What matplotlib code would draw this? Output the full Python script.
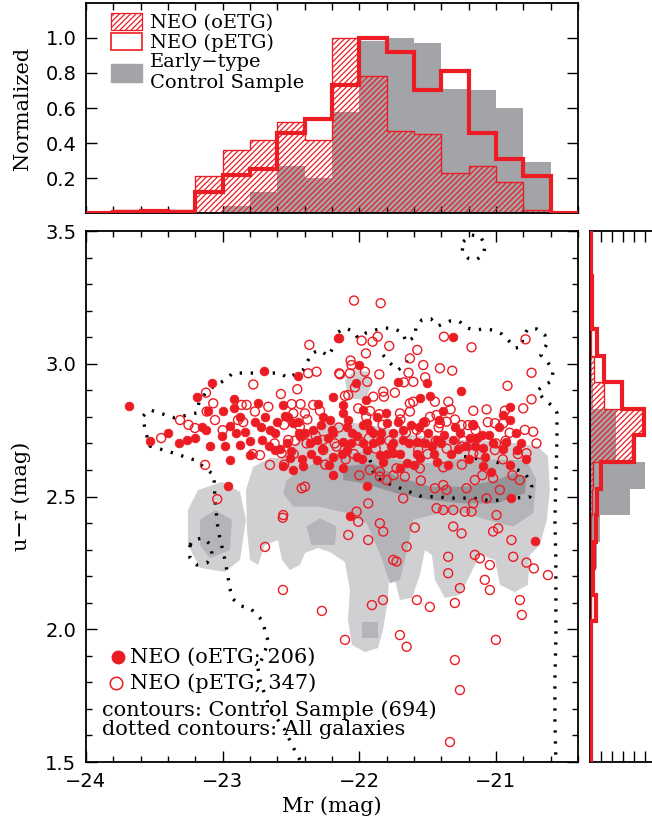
import numpy as np
import matplotlib
matplotlib.use('Agg')
import matplotlib.pyplot as plt
from matplotlib.patches import Patch, Polygon

plt.rcParams['hatch.linewidth'] = 0.9
RED = '#ec1c24'
HGRAY = '#a3a4a8'
C_LIGHT = '#d0d0d3'
C_MID = '#b5b5b9'
C_DARK = '#939398'
SERIF = 'DejaVu Serif'
SANS = 'DejaVu Sans'

# ---------------- top histogram (Mr) ----------------
mr_edges = [-24.0, -23.8, -23.6, -23.4, -23.2, -23.0, -22.8, -22.6, -22.4, -22.2,
            -22.0, -21.8, -21.6, -21.4, -21.2, -21.0, -20.8, -20.6, -20.4]
ctrl_mr = [0, 0, 0, 0, 0.01, 0.04, 0.12, 0.27, 0.20, 0.58, 0.98, 1.00, 0.97, 0.71, 0.70, 0.60, 0.29, 0]
oetg_mr_hist = [0, 0.02, 0.01, 0.02, 0.21, 0.36, 0.42, 0.52, 0.42, 1.00, 0.78, 0.47, 0.45, 0.23, 0.27, 0.18, 0.02, 0]
petg_mr_hist = [0, 0.005, 0.015, 0.01, 0.12, 0.22, 0.25, 0.46, 0.54, 0.73, 1.00, 0.92, 0.70, 0.81, 0.46, 0.31, 0.21, 0]

# ---------------- right histogram (u-r) ----------------
ur_edges = [1.43, 1.53, 1.63, 1.73, 1.83, 1.93, 2.03, 2.13, 2.23, 2.33, 2.43, 2.53, 2.63,
            2.73, 2.83, 2.93, 3.03, 3.13, 3.23, 3.33, 3.43, 3.53]
ctrl_ur = [0, 0, 0, 0, 0, 0, 0.03, 0.06, 0.13, 0.19, 0.73, 1.00, 0.48, 0.48, 0.06, 0.03, 0.03, 0, 0, 0, 0]
oetg_ur_hist = [0, 0, 0, 0, 0, 0, 0.01, 0.01, 0.01, 0.02, 0.03, 0.06, 0.77, 0.96, 0.26, 0.07, 0.02, 0, 0, 0, 0]
petg_ur_hist = [0.01, 0.01, 0.01, 0.01, 0.01, 0.02, 0.10, 0.05, 0.07, 0.10, 0.13, 0.20, 0.80, 0.99, 0.59, 0.26, 0.13, 0.03, 0.03, 0.02, 0.01]

# ---------------- scatter points ----------------
oetg_mr = [-23.683, -23.19, -23.08, -23.105, -22.996, -22.915, -22.917, -22.74, -22.696, -22.561,
           -22.447, -22.301, -22.191, -22.154, -22.874, -22.691, -22.545, -22.264,
           -22.147, -21.313, -22.003, -22.025, -21.715, -21.508, -21.257, -21.483, -21.557,
           -21.952, -22.117, -22.122, -21.971, -21.805, -21.386, -20.947, -20.898,
           -22.337, -22.483, -22.215, -22.093, -21.947, -21.898, -21.801, -21.679, -21.533,
           -22.532, -22.435, -22.313, -22.191, -22.118, -22.02, -21.971, -21.85, -21.752,
           -21.679, -21.581, -21.435, -21.313, -21.191, -21.142, -21.094, -20.928, -20.845,
           -22.508, -22.483, -22.313, -22.191, -22.093, -22.02, -21.947, -21.85, -21.752,
           -21.654, -21.557, -21.435, -22.557, -22.41, -22.191, -22.118, -21.703, -21.094,
           -21.033, -21.947, -20.887, -22.069, -20.716,
           -23.532, -23.261, -23.151, -23.093, -23.005, -22.947, -22.873, -22.837, -22.764,
           -22.713, -22.654, -22.617, -22.947, -22.800,
           -22.45, -22.40, -22.28, -22.23, -22.05, -21.92, -21.87, -21.75, -21.62, -21.50,
           -21.47, -21.38, -21.26, -21.22, -21.05, -20.98, -22.62, -22.58, -22.35, -21.80,
           -21.60, -21.33,
           -22.50, -22.42, -22.36, -22.27, -22.22, -22.13, -22.06, -21.98, -21.90, -21.83,
           -21.77, -21.70, -21.64, -21.58, -21.52, -21.45, -21.40, -21.35, -21.28, -21.20,
           -21.15, -21.08, -21.02, -20.95, -20.90, -20.82, -20.78,
           -22.60, -22.52, -22.44, -22.20, -22.08, -21.97, -21.84, -21.72, -21.56, -21.42,
           -21.30, -21.17, -21.10, -20.90, -20.85,
           -23.40, -23.32, -23.20, -23.12, -22.98, -22.90, -22.80, -22.72, -22.66, -22.96]
oetg_ur = [2.841, 2.876, 2.929, 2.823, 2.823, 2.866, 2.832, 2.853, 2.974, 2.845,
           2.954, 2.847, 2.876, 3.096, 2.801, 2.798, 2.803, 2.798,
           3.098, 3.102, 2.995, 2.929, 2.930, 2.929, 2.899, 2.879, 2.870,
           2.864, 2.845, 2.816, 2.826, 2.816, 2.823, 2.807, 2.838,
           2.751, 2.776, 2.788, 2.763, 2.776, 2.738, 2.776, 2.751, 2.782,
           2.700, 2.726, 2.713, 2.738, 2.707, 2.726, 2.700, 2.713, 2.700,
           2.713, 2.707, 2.713, 2.713, 2.719, 2.719, 2.682, 2.707, 2.675,
           2.644, 2.600, 2.638, 2.650, 2.675, 2.650, 2.675, 2.656, 2.663,
           2.625, 2.644, 2.631, 2.613, 2.613, 2.581, 2.606, 2.606, 2.613,
           2.594, 2.540, 2.493, 2.427, 2.333,
           2.709, 2.713, 2.762, 2.690, 2.728, 2.766, 2.694, 2.743, 2.781,
           2.713, 2.750, 2.675, 2.637, 2.656,
           2.78, 2.74, 2.77, 2.72, 2.74, 2.75, 2.80, 2.74, 2.77, 2.74,
           2.69, 2.73, 2.74, 2.69, 2.73, 2.76, 2.74, 2.68, 2.66, 2.66,
           2.62, 2.66,
           2.67, 2.64, 2.70, 2.68, 2.62, 2.66, 2.70, 2.64, 2.70, 2.63,
           2.69, 2.66, 2.70, 2.66, 2.70, 2.66, 2.70, 2.62, 2.68, 2.64,
           2.69, 2.65, 2.70, 2.68, 2.62, 2.70, 2.64,
           2.78, 2.80, 2.74, 2.75, 2.79, 2.77, 2.74, 2.78, 2.76, 2.79,
           2.76, 2.77, 2.73, 2.79, 2.74,
           2.74, 2.70, 2.72, 2.75, 2.69, 2.74, 2.71, 2.76, 2.69, 2.54]

petg_mr = [-23.122, -23.069, -22.776, -22.574, -22.454, -22.366, -22.374, -22.313, -22.147,
           -22.861, -22.825, -22.666, -22.495, -22.43, -22.398, -22.337, -22.288, -22.483,
           -23.117, -22.764,
           -22.039, -21.844, -21.983, -21.903, -21.866, -21.781, -21.952, -21.576, -21.630,
           -21.381, -21.179, -20.784, -22.064, -22.057, -22.142, -22.069, -21.959, -21.854,
           -21.942, -22.032, -21.532, -21.640, -21.518, -21.605, -21.410, -21.320, -20.740,
           -20.916, -21.674, -21.825, -21.740, -21.820, -21.630, -21.605, -21.447, -21.349,
           -21.332, -21.166, -21.069, -20.935, -20.801, -20.740, -22.105, -22.081, -22.008,
           -21.922, -21.854, -21.703, -21.630, -21.483, -21.435, -21.898,
           -21.581, -21.411, -21.362, -21.252, -21.204, -21.167, -21.008, -20.947, -20.789,
           -20.728, -20.704, -20.777, -22.435, -22.520, -22.569, -22.386, -22.264, -22.167,
           -21.923, -21.850, -21.728, -21.557, -21.386, -21.569, -21.252, -21.167, -21.008,
           -21.850, -21.801, -21.667, -21.447, -21.386, -21.362, -21.216, -21.155, -21.021,
           -20.972, -21.069, -20.826, -21.679, -21.435, -21.386, -21.313, -21.228, -21.179,
           -21.167, -20.996, -22.557, -22.422, -22.398, -22.020, -22.008, -21.935, -21.850,
           -21.825, -22.081, -21.935, -21.594, -21.654, -21.313, -21.252, -21.021, -20.984,
           -20.887, -20.874, -20.777, -20.723, -21.155, -21.118, -21.045, -21.350, -21.350,
           -21.752, -21.728, -21.082, -22.264,
           -22.274, -22.105, -21.908, -21.827, -21.703, -21.579, -21.484, -21.301, -21.264,
           -21.045, -21.001, -20.825, -20.811, -20.620, -21.301, -21.264, -21.337, -22.559,
           -21.654,
           -23.312, -23.203, -23.056, -22.888, -22.727, -22.654, -23.129,
           -22.55, -22.47, -22.38, -22.15, -22.00, -21.95, -21.83, -21.70, -21.55, -21.42,
           -21.30, -21.15, -21.00, -20.90, -22.25, -22.10, -21.88, -21.50, -21.25, -20.95,
           -22.62, -22.48, -22.32, -22.18, -22.04, -21.93, -21.78, -21.66, -21.52, -21.44,
           -21.36, -21.24, -21.12, -21.06, -20.93, -20.84, -23.00, -22.85, -22.78, -23.25,
           -23.45, -22.55, -22.00, -21.75, -21.55, -21.10, -20.88,
           -23.04, -22.56, -22.69]
petg_ur = [2.891, 2.851, 2.922, 2.886, 2.904, 3.071, 2.964, 2.970, 2.964,
           2.845, 2.845, 2.838, 2.848, 2.848, 2.813, 2.845, 2.823, 2.813,
           2.820, 2.820,
           3.238, 3.228, 3.087, 3.083, 3.102, 3.067, 3.039, 3.052, 3.020,
           3.102, 3.062, 3.092, 3.012, 2.995, 2.960, 2.964, 2.970, 2.960,
           2.932, 2.911, 2.995, 2.966, 2.949, 2.932, 2.983, 2.974, 2.966,
           2.917, 2.930, 2.895, 2.891, 2.876, 2.851, 2.857, 2.857, 2.857,
           2.828, 2.823, 2.828, 2.823, 2.832, 2.866, 2.879, 2.882, 2.832,
           2.822, 2.810, 2.813, 2.820, 2.800, 2.807, 2.876,
           2.751, 2.776, 2.782, 2.769, 2.769, 2.769, 2.776, 2.776, 2.751,
           2.744, 2.700, 2.663, 2.763, 2.713, 2.663, 2.700, 2.675, 2.688,
           2.600, 2.594, 2.606, 2.606, 2.610, 2.675, 2.688, 2.663, 2.675,
           2.575, 2.562, 2.575, 2.531, 2.543, 2.525, 2.531, 2.562, 2.569,
           2.525, 2.493, 2.562, 2.493, 2.456, 2.449, 2.449, 2.443, 2.443,
           2.474, 2.430, 2.430, 2.531, 2.537, 2.443, 2.405, 2.474, 2.399,
           2.368, 2.355, 2.336, 2.383, 2.311, 2.387, 2.361, 2.368, 2.380,
           2.336, 2.273, 2.251, 2.229, 2.280, 2.267, 2.242, 2.273, 2.211,
           2.261, 2.255, 2.186, 2.713,
           2.069, 1.960, 2.091, 2.110, 1.978, 2.110, 2.084, 2.099, 2.155,
           2.148, 1.960, 2.110, 2.054, 2.204, 1.884, 1.771, 1.575, 2.148,
           1.934,
           2.788, 2.758, 2.788, 2.788, 2.656, 2.619, 2.619,
           2.77, 2.71, 2.79, 2.76, 2.71, 2.80, 2.77, 2.79, 2.73, 2.76,
           2.79, 2.75, 2.70, 2.74, 2.62, 2.64, 2.68, 2.66, 2.62, 2.64,
           2.70, 2.66, 2.73, 2.70, 2.66, 2.72, 2.71, 2.74, 2.78, 2.71,
           2.68, 2.71, 2.66, 2.78, 2.71, 2.66, 2.75, 2.78, 2.66, 2.77,
           2.72, 2.62, 2.58, 2.58, 2.56, 2.58, 2.58,
           2.49, 2.42, 2.31]

# ---------------- contour outlines (Mr, u-r) ----------------
light_body_mr = [-22.83, -22.778, -22.654, -22.581, -22.493, -22.361, -22.215, -22.032, -21.849,
                 -21.608, -21.359, -21.118, -20.876, -20.701, -20.62, -20.606, -20.628, -20.679,
                 -20.752, -20.767, -20.862, -20.971, -21.008, -21.118, -21.191, -21.264, -21.374,
                 -21.447, -21.469, -21.52, -21.557, -21.615, -21.703, -21.74, -21.776, -21.791,
                 -21.827, -21.864, -21.959, -22.054, -22.083, -22.069, -22.105, -22.215, -22.303,
                 -22.398, -22.435, -22.508, -22.566, -22.595, -22.691, -22.742, -22.8, -22.822]
light_body_ur = [2.524, 2.611, 2.645, 2.645, 2.686, 2.75, 2.777, 2.777, 2.762,
                 2.732, 2.713, 2.713, 2.701, 2.69, 2.653, 2.524, 2.412, 2.317,
                 2.28, 2.167, 2.14, 2.167, 2.261, 2.28, 2.204, 2.129, 2.118,
                 2.186, 2.28, 2.298, 2.204, 2.118, 2.11, 2.186, 2.261, 2.11,
                 1.997, 1.929, 1.914, 1.941, 2.035, 2.148, 2.253, 2.291, 2.306,
                 2.287, 2.242, 2.223, 2.261, 2.336, 2.317, 2.242, 2.261, 2.374]
light_lobe_mr = [-23.254, -23.181, -23.005, -22.873, -22.83, -22.873, -22.983, -23.166, -23.254]
light_lobe_ur = [2.449, 2.524, 2.555, 2.517, 2.412, 2.261, 2.216, 2.231, 2.317]
light_patch_mr = [-22.105, -22.032, -21.937, -21.908, -21.959, -22.083]
light_patch_ur = [2.939, 2.976, 2.969, 2.92, 2.863, 2.871]
mid_body_mr = [-22.532, -22.386, -22.215, -21.971, -21.728, -21.484, -21.24, -20.996, -20.777,
               -20.704, -20.728, -20.874, -21.069, -21.216, -21.411, -21.606, -21.654, -21.703,
               -21.776, -21.85, -21.947, -22.093, -22.288, -22.483, -22.557]
mid_body_ur = [2.562, 2.613, 2.65, 2.669, 2.638, 2.625, 2.644, 2.638, 2.638,
               2.562, 2.437, 2.387, 2.412, 2.437, 2.437, 2.412, 2.286, 2.186,
               2.173, 2.286, 2.399, 2.437, 2.462, 2.462, 2.512]
mid_island_mr = [-22.386, -22.288, -22.167, -22.179, -22.35]
mid_island_ur = [2.387, 2.418, 2.387, 2.318, 2.318]
mid_lobe_mr = [-23.166, -23.056, -22.932, -22.947, -23.093, -23.166]
mid_lobe_ur = [2.412, 2.449, 2.412, 2.298, 2.268, 2.317]
dark_core_mr = [-22.118, -21.898, -21.728, -21.484, -21.216, -20.996, -20.874, -20.777, -20.789,
                -20.996, -21.216, -21.484, -21.728, -21.971, -22.118]
dark_core_ur = [2.613, 2.625, 2.575, 2.537, 2.537, 2.562, 2.587, 2.575, 2.512,
                2.474, 2.474, 2.487, 2.512, 2.55, 2.562]
dark_tip_mr = [-21.981, -21.864, -21.864, -21.981]
dark_tip_ur = [2.027, 2.027, 1.967, 1.967]

# dotted contours: all galaxies
allgal_mr = [-22.435, -22.493, -22.544, -22.595, -22.639, -22.691, -22.727, -22.742, -22.691, -22.669,
             -22.713, -22.8, -22.873, -22.932, -22.947, -22.983, -23.034, -23.056, -23.064, -23.203,
             -23.386, -23.532, -23.568, -23.583, -23.532, -23.349, -23.188, -23.173, -23.108, -22.983,
             -22.925, -22.727, -22.581, -22.522, -22.413, -22.347, -22.288, -22.23, -22.164, -22.164,
             -22.105, -22.047, -22.01, -21.952, -21.886, -21.813, -21.74, -21.681, -21.659, -21.593,
             -21.586, -21.542, -21.476, -21.425, -21.337, -21.271, -21.213, -21.154, -21.089, -21.023,
             -20.957, -20.906, -20.862, -20.811, -20.803, -20.767, -20.701, -20.642, -20.628, -20.672,
             -20.613, -20.584, -20.591, -20.657, -20.701, -20.657, -20.598, -20.554, -20.554, -20.562,
             -20.569, -20.562, -20.562, -20.562, -20.569, -20.569, -20.562]
allgal_ur = [1.508, 1.564, 1.621, 1.658, 1.688, 1.752, 1.809, 1.854, 1.914, 1.959,
             2.035, 2.08, 2.088, 2.118, 2.155, 2.261, 2.374, 2.487, 2.581, 2.637,
             2.668, 2.69, 2.75, 2.803, 2.826, 2.796, 2.815, 2.856, 2.901, 2.939,
             2.965, 2.965, 2.965, 2.946, 2.976, 3.04, 3.052, 3.029, 3.082, 3.116,
             3.135, 3.123, 3.097, 3.116, 3.127, 3.135, 3.131, 3.116, 3.082, 3.101,
             3.138, 3.165, 3.169, 3.142, 3.161, 3.161, 3.135, 3.127, 3.131, 3.127,
             3.112, 3.086, 3.059, 3.063, 3.101, 3.131, 3.131, 3.108, 3.074, 3.033,
             2.999, 2.969, 2.935, 2.916, 2.897, 2.871, 2.845, 2.815, 2.713, 2.562,
             2.412, 2.261, 2.11, 1.959, 1.809, 1.658, 1.508]
inner_mr = [-21.922, -21.886, -21.798, -21.703, -21.557, -21.432, -21.315, -21.169, -21.03, -20.876,
            -20.752, -20.737, -20.767, -20.789, -20.876, -20.971, -21.067, -21.213, -21.337]
inner_ur = [2.637, 2.573, 2.551, 2.532, 2.502, 2.498, 2.494, 2.494, 2.483, 2.494,
            2.498, 2.536, 2.57, 2.589, 2.607, 2.626, 2.637, 2.649, 2.66]
wiggle_mr = [-21.827, -21.776, -21.718, -21.666, -21.63]
wiggle_ur = [3.033, 3.003, 2.976, 2.995, 3.033]
ring_top_mr = [-21.24, -21.178, -21.113, -21.081, -21.089, -21.142, -21.203, -21.247, -21.24]
ring_top_ur = [3.46, 3.485, 3.479, 3.447, 3.416, 3.391, 3.397, 3.422, 3.46]
ring_left_mr = [-23.239, -23.217, -23.144, -23.086, -23.078, -23.115, -23.188, -23.239, -23.239]
ring_left_ur = [2.317, 2.336, 2.344, 2.317, 2.28, 2.25, 2.242, 2.268, 2.317]

# ---------------- figure ----------------
fig = plt.figure(figsize=(6.52, 8.27), dpi=100)
W, H = 652.0, 827.0
def rect(x0, y0, x1, y1):
    return [x0 / W, 1 - y1 / H, (x1 - x0) / W, (y1 - y0) / H]

ax = fig.add_axes(rect(86, 231, 578, 762))
axt = fig.add_axes(rect(86, 2.7, 578, 213.3))
axr = fig.add_axes(rect(590, 231, 656, 762))

XLIM = (-24.0, -20.4)
YLIM = (1.5, 3.5)

def poly(a, mr, ur, color, z):
    a.add_patch(Polygon(np.column_stack([mr, ur]), closed=True, facecolor=color,
                        edgecolor='none', zorder=z))

poly(ax, light_body_mr, light_body_ur, C_LIGHT, 1)
poly(ax, light_lobe_mr, light_lobe_ur, C_LIGHT, 1)
poly(ax, light_patch_mr, light_patch_ur, C_LIGHT, 1)
poly(ax, mid_body_mr, mid_body_ur, C_MID, 2)
poly(ax, mid_island_mr, mid_island_ur, C_MID, 2)
poly(ax, mid_lobe_mr, mid_lobe_ur, C_MID, 2)
poly(ax, dark_core_mr, dark_core_ur, C_DARK, 3)
poly(ax, dark_tip_mr, dark_tip_ur, C_MID, 3)

dot = dict(color='black', lw=2.4, ls=(0, (0.7, 2.6)), dash_capstyle='butt', zorder=4)
for mr, ur in [(allgal_mr, allgal_ur), (inner_mr, inner_ur), (wiggle_mr, wiggle_ur),
               (ring_top_mr, ring_top_ur), (ring_left_mr, ring_left_ur)]:
    ax.plot(mr, ur, **dot)

ax.scatter(oetg_mr, oetg_ur, s=40, color=RED, edgecolors=RED, linewidths=0.5, zorder=5)
ax.scatter(petg_mr, petg_ur, s=42, facecolors='none', edgecolors=RED, linewidths=1.0, zorder=6)

ax.set_xlim(*XLIM)
ax.set_ylim(*YLIM)
ax.set_xticks([-24, -23, -22, -21])
ax.set_xticks(np.arange(-24, -20.39, 0.2), minor=True)
ax.set_yticks([1.5, 2.0, 2.5, 3.0, 3.5])
ax.set_yticks(np.arange(1.5, 3.51, 0.1), minor=True)
ax.set_yticklabels(['1.5', '2.0', '2.5', '3.0', '3.5'])
ax.tick_params(which='both', direction='in', top=True, right=True, width=1.0)
ax.tick_params(which='major', length=8, labelsize=14, pad=7)
ax.tick_params(which='minor', length=4)
for lab in ax.get_xticklabels() + ax.get_yticklabels():
    lab.set_family(SANS)
ax.set_xlabel('Mr (mag)', family=SERIF, fontsize=15, labelpad=4)
ax.set_ylabel('u\u2212r (mag)', family=SERIF, fontsize=15, labelpad=10)
for s in ax.spines.values():
    s.set_linewidth(1.3)

# main legend
ax.plot([0.065], [0.198], 'o', ms=9, color=RED, transform=ax.transAxes, zorder=7)
ax.plot([0.061], [0.149], 'o', ms=9, mfc='none', mec=RED, mew=1.1, transform=ax.transAxes, zorder=7)
tk = dict(transform=ax.transAxes, family=SERIF, fontsize=15, va='center', ha='left', zorder=8)
ax.text(0.089, 0.198, 'NEO (oETG; 206)', **tk)
ax.text(0.089, 0.149, 'NEO (pETG; 347)', **tk)
ax.text(0.033, 0.098, 'contours: Control Sample (694)', **tk)
ax.text(0.033, 0.062, 'dotted contours: All galaxies', **tk)

# ---- top histogram ----
axt.stairs(ctrl_mr, mr_edges, fill=True, color=HGRAY, zorder=1)
axt.stairs(oetg_mr_hist, mr_edges, fill=True, facecolor='none', edgecolor=RED,
           hatch='//////', lw=0.8, zorder=2)
axt.stairs(oetg_mr_hist, mr_edges, color=RED, lw=0.9, zorder=2)
axt.stairs(petg_mr_hist, mr_edges, color=RED, lw=3.0, zorder=3)
axt.set_xlim(*XLIM)
axt.set_ylim(0, 1.2)
axt.set_yticks([0.2, 0.4, 0.6, 0.8, 1.0])
axt.set_yticklabels(['0.2', '0.4', '0.6', '0.8', '1.0'])
axt.set_xticks(np.arange(-24, -20.39, 0.2))
axt.tick_params(axis='x', which='both', direction='in', top=True, bottom=True,
                labelbottom=False, length=5, width=1.0)
axt.tick_params(axis='y', which='both', direction='in', left=True, right=True,
                length=8, width=1.0, labelsize=14, pad=7)
for lab in axt.get_yticklabels():
    lab.set_family(SANS)
axt.set_ylabel('Normalized', family=SERIF, fontsize=15, labelpad=10)
for s in axt.spines.values():
    s.set_linewidth(1.3)

handles = [Patch(facecolor='white', edgecolor=RED, hatch='//////', lw=0.9),
           Patch(facecolor='white', edgecolor=RED, lw=1.2),
           Patch(facecolor=HGRAY, edgecolor=HGRAY)]
axt.legend(handles, ['NEO (oETG)', 'NEO (pETG)', 'Early\u2212type\nControl Sample'],
           loc='upper left', bbox_to_anchor=(0.035, 0.99), frameon=False,
           prop={'family': SERIF, 'size': 14}, handlelength=1.6, handleheight=1.0,
           handletextpad=0.4, labelspacing=0.05, borderaxespad=0.0)

# ---- right histogram ----
axr.stairs(ctrl_ur, ur_edges, orientation='horizontal', fill=True, color=HGRAY, zorder=1)
axr.stairs(oetg_ur_hist, ur_edges, orientation='horizontal', fill=True, facecolor='none',
           edgecolor=RED, hatch='//////', lw=0.8, zorder=2)
axr.stairs(oetg_ur_hist, ur_edges, orientation='horizontal', color=RED, lw=0.9, zorder=2)
axr.stairs(petg_ur_hist, ur_edges, orientation='horizontal', color=RED, lw=3.0, zorder=3)
axr.set_ylim(*YLIM)
axr.set_xlim(0, 1.2)
axr.set_xticks([0.2, 0.4, 0.6, 0.8, 1.0])
axr.set_yticks([])
axr.tick_params(axis='x', direction='in', top=True, bottom=True, labelbottom=False,
                length=8, width=1.0)
axr.spines['right'].set_visible(False)
for s in axr.spines.values():
    s.set_linewidth(1.3)

fig.savefig('out.png', dpi=100)
